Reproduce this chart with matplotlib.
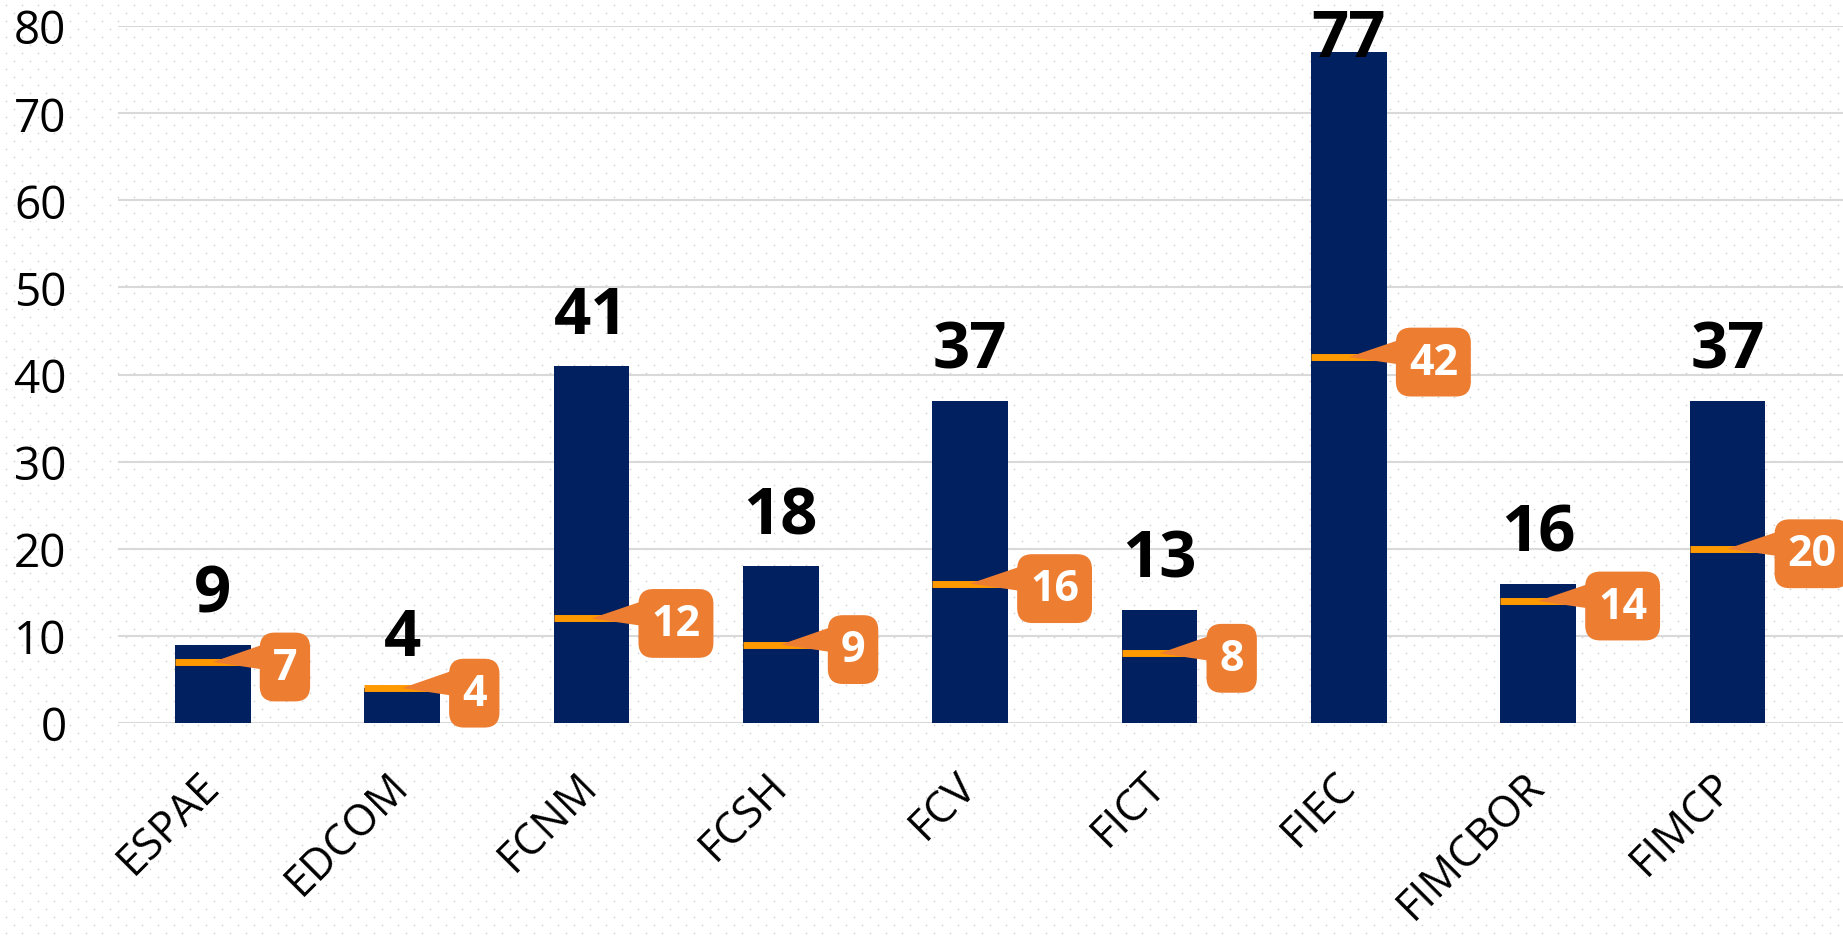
import numpy as np
import matplotlib
matplotlib.use('Agg')
from matplotlib import pyplot as plt

# data
faculties = ['ESPAE', 'EDCOM', 'FCNM', 'FCSH', 'FCV', 'FICT', 'FIEC', 'FIMCBOR', 'FIMCP']
totals = [9, 4, 41, 18, 37, 13, 77, 16, 37]
marks = [7, 4, 12, 9, 16, 8, 42, 14, 20]

navy = '#002060'
line_orange = '#FF9900'
box_orange = '#ED7D31'
grid_grey = '#D9D9D9'

plt.rcParams['font.family'] = ['Open Sans', 'DejaVu Sans']

W, H = 1843, 937
fig = plt.figure(figsize=(W / 100, H / 100), dpi=100)

# dotted background over the whole figure
bg = fig.add_axes([0, 0, 1, 1], zorder=-1)
bg.set_xlim(0, W)
bg.set_ylim(H, 0)
bg.axis('off')
rows = np.arange(6, H, 8)
dx, dy = [], []
for i, yy in enumerate(rows):
    xs = np.arange(6 + (i % 2) * 8, W, 16)
    dx.extend(xs)
    dy.extend([yy] * len(xs))
bg.scatter(dx, dy, s=1.3, color='#CFCFCF', linewidths=0)

ax = fig.add_axes([118 / W, 1 - 724 / H, 1 - 118 / W, (724 - 27) / H])
ax.set_facecolor('none')

x = np.arange(len(faculties))
bar_w = 0.40
ax.bar(x, totals, width=bar_w, color=navy, zorder=2)
ax.hlines(marks, x - bar_w / 2, x + bar_w / 2, colors=line_orange, lw=5, zorder=3)

ax.set_xlim(-0.5, 8.61)
ax.set_ylim(0, 80)
ax.set_yticks(range(0, 81, 10))
ax.yaxis.grid(True, color=grid_grey, lw=1.5)
ax.set_axisbelow(True)
for s in ax.spines.values():
    s.set_visible(False)

ax.set_xticks(x)
ax.set_xticklabels(faculties, rotation=45, ha='right', va='center', rotation_mode='anchor')
ax.tick_params(axis='x', length=0, pad=40, labelsize=31)
ax.tick_params(axis='y', length=0, pad=37, labelsize=33)

# totals above the bars; pushed down when they would run off the top
for xi, t in zip(x, totals):
    top_px = H - ax.transData.transform((xi, t))[1]
    off = min(33, top_px - 9 - 48)
    ax.annotate(str(t), (xi, t), xytext=(0, off), textcoords='offset pixels',
                ha='center', va='baseline', fontsize=47, fontweight='bold',
                color='black', annotation_clip=False, zorder=5)

# orange callouts for the second series
for xi, m in zip(x, marks):
    ax.annotate(str(m), (xi, m), xytext=(60, 0), textcoords='offset pixels',
                ha='left', va='center_baseline', fontsize=31, fontweight='bold',
                color='white', zorder=6,
                bbox=dict(boxstyle='round,pad=0.3,rounding_size=0.35',
                          fc=box_orange, ec='none'),
                arrowprops=dict(arrowstyle='wedge,tail_width=0.7,shrink_factor=0.5',
                                fc=box_orange, ec='none', relpos=(0.05, 0.75),
                                shrinkA=0, shrinkB=0, patchA=None))

fig.savefig('out.png', dpi=100)
